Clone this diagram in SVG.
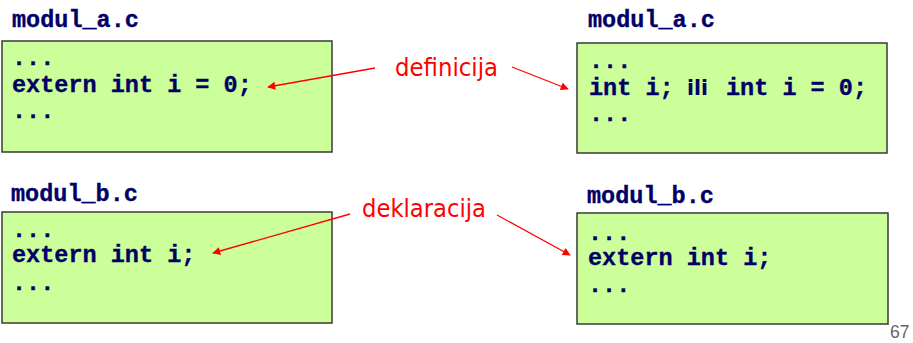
<svg xmlns="http://www.w3.org/2000/svg" width="913" height="343" viewBox="0 0 913 343">
  <defs>
    <marker id="ah" viewBox="0 0 10 10" refX="9" refY="5" markerWidth="10" markerHeight="8" markerUnits="userSpaceOnUse" orient="auto">
      <path d="M0,0 L10,5 L0,10 Z" fill="#ff0000"/>
    </marker>
    <style>
      .box { fill: #ccff99; stroke: #3a3a3a; stroke-width: 1.5; }
      .code { font-family: "Liberation Mono", "Courier New", monospace; font-weight: bold; font-size: 23.5px; fill: #000066; stroke: #000066; stroke-width: 0.35; }
      .ili { font-family: "DejaVu Sans", Tahoma, sans-serif; font-weight: bold; font-size: 22px; fill: #000066; }
      .lbl { font-family: "DejaVu Sans", Tahoma, sans-serif; font-size: 24.5px; fill: #ff0000; }
      .arrow { stroke: #ff0000; stroke-width: 1.3; fill: none; marker-end: url(#ah); }
      .page { font-family: "Liberation Sans", Arial, sans-serif; font-size: 17.5px; fill: #666666; }
    </style>
  </defs>

  <g id="modul_a_left">
    <text class="code" x="12" y="27">modul_a.c</text>
    <rect class="box" x="2" y="41" width="330" height="111"/>
    <text class="code" x="12" y="65">...</text>
    <text class="code" x="12" y="92">extern int i = 0;</text>
    <text class="code" x="12" y="118">...</text>
  </g>

  <g id="modul_a_right">
    <text class="code" x="588" y="27">modul_a.c</text>
    <rect class="box" x="577" y="43" width="310" height="110"/>
    <text class="code" x="589" y="68">...</text>
    <text class="code" x="589" y="95">int i;</text>
    <text class="ili" x="687" y="95" textLength="21" lengthAdjust="spacingAndGlyphs">ili</text>
    <text class="code" x="726" y="95">int i = 0;</text>
    <text class="code" x="589" y="121">...</text>
  </g>

  <g id="modul_b_left">
    <text class="code" x="11" y="201">modul_b.c</text>
    <rect class="box" x="2" y="212" width="330" height="111"/>
    <text class="code" x="12" y="237">...</text>
    <text class="code" x="12" y="262">extern int i;</text>
    <text class="code" x="12" y="290">...</text>
  </g>

  <g id="modul_b_right">
    <text class="code" x="587" y="203">modul_b.c</text>
    <rect class="box" x="577" y="213" width="311" height="111"/>
    <text class="code" x="588" y="240">...</text>
    <text class="code" x="588" y="265">extern int i;</text>
    <text class="code" x="588" y="292">...</text>
  </g>

  <g id="label_definicija">
    <text class="lbl" x="395" y="76" textLength="103" lengthAdjust="spacingAndGlyphs">definicija</text>
  </g>
  <g id="label_deklaracija">
    <text class="lbl" x="362" y="217" textLength="124" lengthAdjust="spacingAndGlyphs">deklaracija</text>
  </g>

  <g id="connectors">
    <line class="arrow" x1="375" y1="68" x2="268" y2="87"/>
    <line class="arrow" x1="512" y1="67" x2="568" y2="89"/>
    <line class="arrow" x1="350" y1="214" x2="213" y2="253"/>
    <line class="arrow" x1="497" y1="215" x2="570" y2="255"/>
  </g>

  <text class="page" x="890" y="338">67</text>
</svg>
